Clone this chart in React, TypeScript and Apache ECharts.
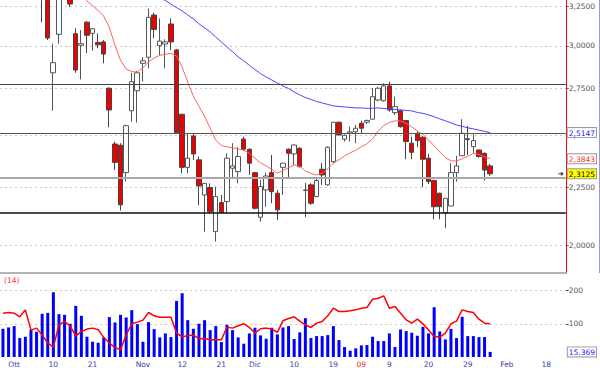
import { useEffect, useRef } from "react";
import * as echarts from "echarts";

// ---- data ----
const openP = [3.62,3.55,3.50,3.56,3.42,3.45,3.40,3.38,3.32,2.840, 3.071,3.38,3.31,3.075,3.003,3.148,3.077,3.021,3.024,2.752, 2.457,2.451,2.318,2.629,2.738,2.895,2.931,3.194,3.001,3.011, 3.136,2.975,2.610,2.343,2.497,2.379,2.215,2.249,2.056,2.181, 2.185,2.339,2.323,2.482,2.431,2.318,2.117,2.238,2.318,2.223, 2.343,2.431,2.408,2.436,2.236,2.261,2.208,2.334,2.261,2.370, 2.568,2.481,2.512,2.519,2.563,2.568,2.584,2.687,2.683,2.765, 2.619,2.629,2.577,2.461,2.511,2.491,2.387,2.281,2.223,2.137, 2.166,2.318,2.399,2.483,2.444,2.427,2.411,2.350];
const highP = [3.70,3.62,3.60,3.58,3.48,3.50,3.46,3.42,3.34,3.013, 3.40,3.42,3.34,3.109,3.098,3.155,3.110,3.077,3.036,2.757, 2.469,2.461,2.555,2.840,2.852,2.931,3.237,3.209,3.172,3.040, 3.172,2.980,2.612,2.511,2.510,2.395,2.270,2.268,2.253,2.215, 2.411,2.461,2.441,2.494,2.435,2.322,2.284,2.318,2.403,2.238, 2.365,2.435,2.455,2.440,2.271,2.268,2.292,2.363,2.445,2.570, 2.572,2.505,2.545,2.554,2.577,2.583,2.752,2.760,2.780,2.789, 2.705,2.636,2.580,2.494,2.519,2.497,2.408,2.285,2.225,2.200, 2.363,2.398,2.584,2.549,2.511,2.431,2.415,2.360];
const lowP = [3.52,3.45,3.44,3.40,3.36,3.38,3.33,3.147,3.036,2.629, 3.013,3.30,3.246,2.840,2.802,2.955,2.970,2.985,2.895,2.542, 2.330,2.146,2.276,2.571,2.566,2.789,2.866,3.046,2.944,2.866, 2.975,2.510,2.315,2.315,2.379,2.169,2.056,2.134,2.015,2.134, 2.134,2.292,2.268,2.424,2.307,2.150,2.098,2.163,2.178,2.105, 2.215,2.292,2.354,2.343,2.117,2.171,2.205,2.261,2.258,2.363, 2.498,2.469,2.469,2.461,2.511,2.559,2.584,2.680,2.678,2.624, 2.606,2.540,2.382,2.382,2.441,2.250,2.265,2.108,2.108,2.070, 2.165,2.276,2.398,2.403,2.411,2.390,2.281,2.303];
const closeP = [3.55,3.50,3.56,3.42,3.45,3.40,3.38,3.32,3.048,2.899, 3.36,3.33,3.266,2.856,3.013,3.065,3.106,3.006,2.950,2.633, 2.367,2.171,2.550,2.789,2.840,2.910,3.179,3.102,3.029,3.024, 3.024,2.514,2.343,2.387,2.408,2.256,2.268,2.141,2.208,2.137, 2.387,2.350,2.395,2.431,2.363,2.156,2.253,2.302,2.230,2.149, 2.363,2.411,2.452,2.346,2.238,2.178,2.281,2.307,2.441,2.568, 2.503,2.501,2.518,2.537,2.537,2.577,2.705,2.752,2.765,2.633, 2.651,2.545,2.469,2.416,2.474,2.382,2.276,2.163,2.163,2.200, 2.318,2.350,2.511,2.479,2.474,2.395,2.330,2.3125];

const maShort: (number | null)[] = [null,null,null,null,null,null,null,null,null,null, null,null,null,3.43,3.33,3.287,3.256,3.224,3.187,3.117, 3.005,2.915,2.862,2.847,2.844,2.868,2.903,2.927,2.942,2.949, 2.954,2.939,2.874,2.787,2.709,2.654,2.601,2.538,2.477,2.450, 2.443,2.438,2.433,2.426,2.412,2.387,2.365,2.350,2.334,2.315, 2.329,2.341,2.355,2.348,2.326,2.314,2.307,2.315,2.336,2.363, 2.379,2.398,2.413,2.426,2.443,2.458,2.483,2.523,2.551,2.567, 2.575,2.575,2.562,2.544,2.523,2.505,2.477,2.448,2.418,2.391, 2.374,2.374,2.384,2.396,2.411,2.406,2.394,2.3843];
const maLong: (number | null)[] = [null,null,null,null,null,null,null,null,null,null, null,null,null,null,null,null,null,null,null,null, null,null,null,null,null,null,null,3.34,3.306,3.290, 3.266,3.243,3.221,3.195,3.169,3.138,3.112,3.087,3.055,3.024, 2.994,2.964,2.934,2.910,2.884,2.859,2.836,2.816,2.799,2.782, 2.765,2.751,2.731,2.715,2.701,2.690,2.679,2.671,2.663,2.655, 2.652,2.649,2.647,2.644,2.644,2.642,2.642,2.644,2.641,2.639, 2.636,2.633,2.631,2.628,2.620,2.615,2.607,2.597,2.586,2.576, 2.565,2.554,2.547,2.539,2.534,2.527,2.521,2.5147];

const volume = [85,89,93,57,61,82,76,130,133,195, 129,127,100,154,124,61,46,43,59,120, 104,127,119,141,99,46,105,84,59,71, 60,169,192,111,85,100,111,81,93,45, 97,81,59,40,71,88,65,55,88,68, 89,93,54,74,117,57,63,63,66,93, 51,30,19,26,35,36,61,48,48,71, 30,83,78,73,64,91,71,150,77,53, 85,57,121,63,63,60,60,15.369];
const volumeAvg = [132,134,132,121,142,81,87,66,42,30, 97,107,94,63,77,84,87,82,59,42, 29,22,67,100,105,111,134,124,120,120, 120,72,61,64,66,55,56,52,52,52, 90,87,94,100,89,72,85,87,84,74, 109,116,121,108,97,89,102,107,124,147, 137,137,139,142,147,149,174,177,184,147, 152,132,112,102,114,100,81,62,60,72, 100,108,142,137,134,114,102,100];
const volumePeriod = 14;

const SLOT_COUNT = 101;
const xLabelIndex = [2, 9, 16, 25, 32, 39, 45, 52, 59, 64, 69, 76, 83, 90, 97];
const xLabelText = ["Ott", "10", "21", "Nov", "12", "21", "Dic", "10", "19", "09", "9", "20", "29", "Feb", "18"];
const yearLabel = "09";
const priceTicks = [2.0, 2.25, 2.5, 2.75, 3.0, 3.25];
const priceRange = [1.890, 3.293];
const levelLines = [2.768, 2.503, 2.285, 2.145];
const volumeTicks = [100, 200];
const volumeRange = [0, 250];

const fmtPrice = (v: number) => v.toFixed(4).replace(".", ",");

export default function App() {
  const ref = useRef<HTMLDivElement>(null);
  useEffect(() => {
    const chart = echarts.init(ref.current!, null, { renderer: "svg" });
    const L = Math.log;
    const n = closeP.length;
    const categories = Array.from({ length: SLOT_COUNT }, (_, i) => String(i));
    const labelAt: Record<number, string> = {};
    xLabelIndex.forEach((idx, k) => (labelAt[idx] = xLabelText[k]));
    const candles = closeP.map((c, i) => [L(openP[i]), L(c), L(lowP[i]), L(highP[i])]);
    const lastLong = maLong[n - 1] as number;
    const lastShort = maShort[n - 1] as number;
    const lastClose = closeP[n - 1];
    const lastVol = volume[n - 1];
    const font = "DejaVu Sans";
    const fs = 7.5;
    const levelStyles = [
      { color: "#444", width: 1 },
      { color: "#555", width: 1 },
      { color: "#a8a8a8", width: 2 },
      { color: "#111", width: 1.5 },
    ];
    const boxBase = { fontFamily: font, fontSize: fs, backgroundColor: "#fff", borderColor: "#9a9a9a", borderWidth: 1, padding: [1, 1, 0, 1], lineHeight: 8 };
    const yMin = L(priceRange[0]);
    const yMax = L(priceRange[1]);

    chart.setOption({
      animation: false,
      backgroundColor: "#ffffff",
      textStyle: { fontFamily: font },
      grid: [
        { left: -2, right: 30, top: 0, height: 273 },
        { left: -2, right: 30, top: 274, height: 83.5 },
      ],
      xAxis: [
        {
          type: "category", gridIndex: 0, data: categories, boundaryGap: true,
          axisLabel: { show: false }, axisTick: { show: false },
          axisLine: { show: true, lineStyle: { color: "#b4b4b4", width: 2 } },
          splitLine: { show: false },
        },
        {
          type: "category", gridIndex: 1, data: categories, boundaryGap: true,
          axisLine: { show: false }, axisTick: { show: false }, splitLine: { show: false },
          axisLabel: {
            interval: 0, margin: 3, fontFamily: font, fontSize: fs,
            formatter: (v: string) => labelAt[Number(v)] ?? "",
            color: (v: string) => (labelAt[Number(v)] === yearLabel ? "#ff2020" : "#3a3ab0"),
          },
        },
      ],
      yAxis: [
        {
          type: "value", gridIndex: 0, position: "right", min: yMin, max: yMax,
          axisLine: { show: true, lineStyle: { color: "#ff0000", width: 1 } },
          axisTick: { show: true, customValues: priceTicks.map(L), length: 3, lineStyle: { color: "#555" } },
          axisLabel: { customValues: priceTicks.map(L), formatter: (v: number) => fmtPrice(Math.exp(v)), color: "#555", fontFamily: font, fontSize: fs, margin: 3 },
          splitLine: { show: true, lineStyle: { color: "#c8c8c8", width: 1, type: [2, 3] } },
        },
        {
          type: "value", gridIndex: 0, position: "right", min: yMin, max: yMax,
          axisLine: { show: false }, axisTick: { show: false }, splitLine: { show: false },
          axisLabel: {
            customValues: [L(lastLong), L(lastShort), L(lastClose)], margin: 2, fontFamily: font, fontSize: fs,
            formatter: (v: number) => {
              const p = Math.exp(v);
              const opts = [["b", lastLong], ["r", lastShort], ["y", lastClose]] as [string, number][];
              opts.sort((a, b) => Math.abs(a[1] - p) - Math.abs(b[1] - p));
              return `{${opts[0][0]}|${fmtPrice(opts[0][1])}}`;
            },
            rich: {
              b: { ...boxBase, color: "#2020ff" },
              r: { ...boxBase, color: "#ff3030" },
              y: { ...boxBase, color: "#000", backgroundColor: "#ffff00" },
            },
          },
        },
        {
          type: "value", gridIndex: 0, position: "right", min: yMin, max: yMax,
          axisLine: { show: false }, axisTick: { show: false }, splitLine: { show: false },
          axisLabel: { customValues: [L(lastClose)], margin: -8, formatter: () => "➔", color: "#000", fontSize: 7, fontFamily: font },
        },
        {
          type: "value", gridIndex: 1, position: "right", min: volumeRange[0], max: volumeRange[1],
          axisLine: { show: false },
          axisTick: { show: true, customValues: volumeTicks, length: 3, lineStyle: { color: "#555" } },
          axisLabel: { customValues: volumeTicks, color: "#555", fontFamily: font, fontSize: fs, margin: 3 },
          splitLine: { show: true, lineStyle: { color: "#c8c8c8", width: 1, type: [2, 3] } },
        },
        {
          type: "value", gridIndex: 1, position: "right", min: volumeRange[0], max: volumeRange[1],
          axisLine: { show: false }, axisTick: { show: false }, splitLine: { show: false },
          axisLabel: {
            customValues: [lastVol], margin: 2, fontFamily: font, fontSize: fs,
            formatter: (v: number) => `{b|${v.toFixed(3)}}`,
            rich: { b: { ...boxBase, color: "#2020ff" } },
          },
        },
      ],
      series: [
        {
          type: "candlestick", xAxisIndex: 0, yAxisIndex: 0, data: candles, barWidth: 5, clip: true,
          itemStyle: { color: "#ffffff", color0: "#ee0000", borderColor: "#555", borderColor0: "#444", borderColorDoji: "#333", borderWidth: 1 },
          markLine: {
            silent: true, symbol: ["none", "none"], label: { show: false },
            data: levelLines.map((v, k) => ({ yAxis: L(v), lineStyle: { type: "solid", ...levelStyles[k] } })),
          },
        },
        {
          type: "line", xAxisIndex: 0, yAxisIndex: 0, showSymbol: false, clip: true,
          data: maShort.map((v) => (v == null ? null : L(v))),
          lineStyle: { color: "#ff6464", width: 1 },
        },
        {
          type: "line", xAxisIndex: 0, yAxisIndex: 0, showSymbol: false, clip: true,
          data: maLong.map((v) => (v == null ? null : L(v))),
          lineStyle: { color: "#4848ff", width: 1 },
        },
        {
          type: "bar", xAxisIndex: 1, yAxisIndex: 3, data: volume, barWidth: 3,
          itemStyle: { color: "#0000ff" },
        },
        {
          type: "line", xAxisIndex: 1, yAxisIndex: 3, data: volumeAvg, showSymbol: false,
          lineStyle: { color: "#ff0000", width: 1.5 },
        },
      ],
      graphic: [
        { type: "text", left: 4, top: 276, style: { text: `(${volumePeriod})`, fill: "#ff3030", fontFamily: font, fontSize: fs } },
        { type: "line", shape: { x1: 599.5, y1: 0, x2: 599.5, y2: 273 }, style: { stroke: "#9a9acc", lineWidth: 1 } },
      ],
    });
    return () => chart.dispose();
  }, []);
  return <div ref={ref} style={{ position: "fixed", left: 0, top: 0, width: 600, height: 368 }} />;
}
